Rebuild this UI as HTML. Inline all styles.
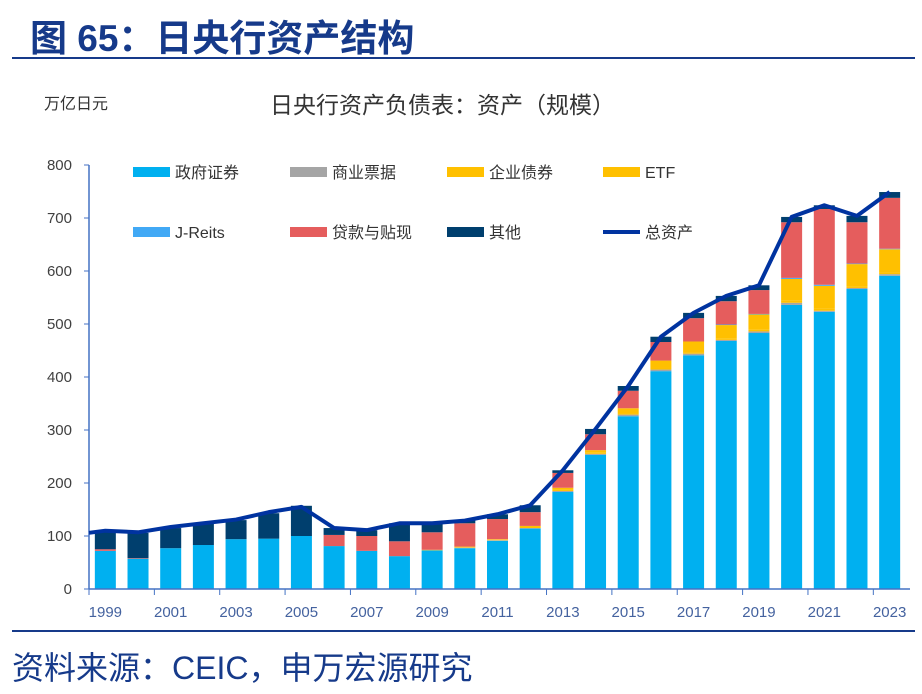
<!DOCTYPE html>
<html><head><meta charset="utf-8">
<style>
body{margin:0;width:922px;height:694px;background:#fff;overflow:hidden;font-family:"Liberation Sans","Noto Sans CJK SC",sans-serif;}
#wrap{position:relative;width:922px;height:694px;}
.t{position:absolute;white-space:nowrap;}
</style></head><body><div id="wrap">
<div class="t" style="left:30px;top:8px;font-size:37px;font-weight:bold;color:#163a8a;">图 65：日央行资产结构</div>
<div style="position:absolute;left:12px;top:57px;width:903px;height:2px;background:#163a8a"></div>
<div class="t" style="left:44px;top:90px;font-size:16px;color:#333">万亿日元</div>
<div class="t" style="left:270px;top:86px;font-size:23px;color:#333">日央行资产负债表：资产（规模）</div>
<div style="position:absolute;left:12px;top:630px;width:903px;height:2px;background:#163a8a"></div>
<div class="t" style="left:12px;top:643px;font-size:32px;color:#163a8a">资料来源：CEIC，申万宏源研究</div>
<svg id="chart" width="922" height="694" style="position:absolute;left:0;top:0"></svg>
</div>
<script>
const years=[1999,2000,2001,2002,2003,2004,2005,2006,2007,2008,2009,2010,2011,2012,2013,2014,2015,2016,2017,2018,2019,2020,2021,2022,2023];
const gov=[72,57,77,83,94,95,100,81,72,62,73,77,91,114,183,253,326,411,441,468,483,536,523,566,591];
const cp=[0,0,0,0,0,0,0,0,0,0,0,1,1,1,2,2,3,3,3,2,3,4,2,2,3];
const corp=[0,0,0,0,0,0,0,0,0,0,0,1,1,2,3,3,3,3,3,3,3,4,4,3,3];
const etf=[0,0,0,0,0,0,0,0,0,0,1,1,1,2,3,4,9,14,20,25,29,41,43,42,44];
const jreit=[0,0,0,0,0,0,0,0,0,0,0,0,0,0,0,0,0,0,0,1,1,2,2,1,1];
const loans=[3,1,0,0,0,0,0,21,28,28,33,44,38,26,28,30,33,35,44,44,45,105,143,78,96];
const other=[33,48,38,40,36,48,57,13,11,34,17,6,9,13,5,10,9,10,10,10,9,10,7,12,11];
const total=[110,107,117,124,131,145,155,115,111,124,124,129,141,158,224,302,383,476,521,553,573,702,724,704,749];
const yTicks=[0,100,200,300,400,500,600,700,800];
const series=[["gov",gov,"#00B0F0","政府证券"],["cp",cp,"#A5A5A5","商业票据"],["corp",corp,"#FFC000","企业债券"],["etf",etf,"#FFC000","ETF"],["jreit",jreit,"#41A9F5","J-Reits"],["loans",loans,"#E55D5D","贷款与贴现"],["other",other,"#003F6E","其他"]];
const svg=document.getElementById('chart');const NS='http://www.w3.org/2000/svg';
function mk(t,a){const e=document.createElementNS(NS,t);for(const k in a)e.setAttribute(k,a[k]);svg.appendChild(e);return e;}
const X0=89,X1=906,Y0=589,Y1=165,band=(X1-X0)/years.length,bw=21;
const y=v=>Y0-(v/800)*(Y0-Y1);
const xc=i=>X0+band*(i+0.5);
yTicks.forEach(v=>{
 let t=mk('text',{x:72,y:y(v)+5,'text-anchor':'end','font-size':15,fill:'#404040','font-family':'Liberation Sans, sans-serif'});t.textContent=v;
 
 
 let l=mk('line',{x1:84,x2:89,y1:y(v),y2:y(v),stroke:'#4472C4'});
 
 
});
years.forEach((yr,i)=>{
 let base=0;
 series.forEach(s=>{const v=s[1][i];if(v>0){
  let r=mk('rect',{x:xc(i)-bw/2,y:y(base+v),width:bw,height:y(base)-y(base+v),fill:s[2]});
  
  
 } base+=v;});
 if(i%2==0){
  let tk=mk('line',{x1:X0+band*i,x2:X0+band*i,y1:Y0,y2:Y0+6,stroke:'#4472C4'});
  
  
  let t=mk('text',{x:xc(i),y:Y0+28,'text-anchor':'middle','font-size':15,fill:'#44629f','font-family':'Liberation Sans, sans-serif'});t.textContent=yr;
  
  
 }
});
let ax=mk('line',{x1:X0,x2:X1+4,y1:Y0,y2:Y0,stroke:'#4472C4','stroke-width':1.5});


let ay=mk('line',{x1:X0,x2:X0,y1:Y1,y2:Y0,stroke:'#4472C4','stroke-width':1.5});


let pts=total.map((v,i)=>xc(i)+','+y(v));pts.unshift(X0+','+y(total[0]-4));
let pl=mk('polyline',{points:pts.join(' '),fill:'none',stroke:'#0033A0','stroke-width':4,'stroke-linejoin':'round'});


const leg=[[0,133,172],[1,290,172],[2,447,172],[3,603,172],[4,133,232],[5,290,232],[6,447,232]];
leg.forEach(([k,lx,ly])=>{const s=series[k];
 let r=mk('rect',{x:lx,y:ly-5,width:37,height:10,fill:s[2]});
 
 
 let t=mk('text',{x:lx+42,y:ly+6,'font-size':16,fill:'#333','font-family':'Liberation Sans, Noto Sans CJK SC, sans-serif'});t.textContent=s[3];
 
 
});
let ll=mk('line',{x1:603,x2:640,y1:232,y2:232,stroke:'#0033A0','stroke-width':4});


let lt=mk('text',{x:645,y:238,'font-size':16,fill:'#333','font-family':'Liberation Sans, Noto Sans CJK SC, sans-serif'});lt.textContent='总资产';


</script></body></html>
